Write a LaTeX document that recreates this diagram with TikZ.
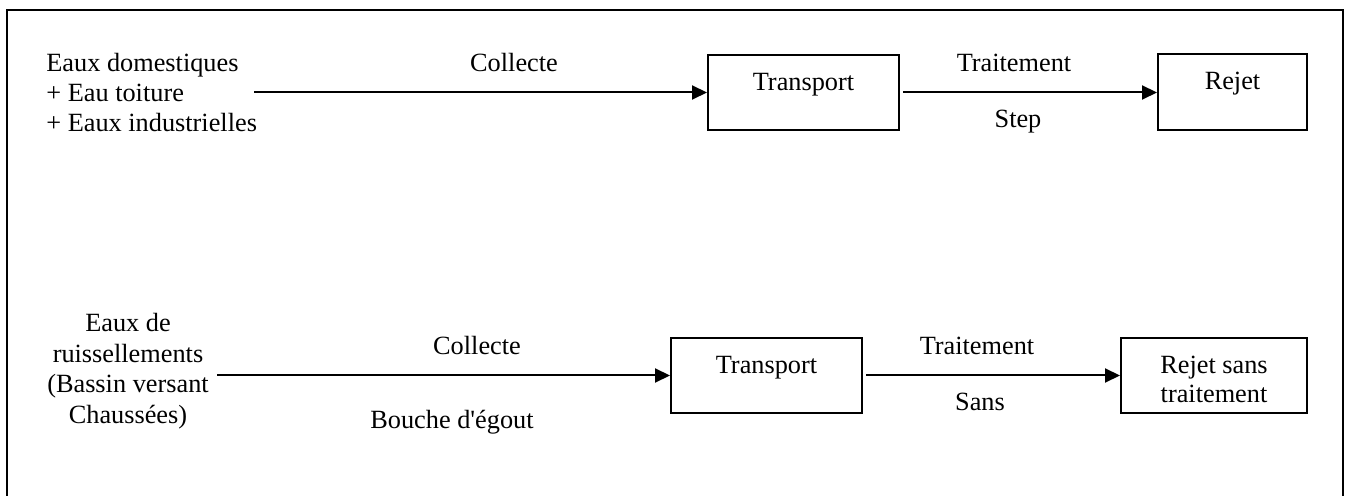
\documentclass[tikz,border=0pt]{standalone}
\usepackage{fontspec}
\setmainfont{Liberation Serif}
\usetikzlibrary{arrows.meta}
\begin{document}
\begin{tikzpicture}[x=0.5pt,y=-0.5pt,
  every node/.style={font=\fontsize{13.15pt}{15.2pt}\selectfont, inner sep=0pt},
  box/.style={draw, line width=1pt, minimum height=37.5pt},
  lbl/.style={anchor=base},
  flow/.style={line width=1pt, -{Triangle[length=7.5pt,width=7pt]}},
  frame/.style={line width=1pt}]
\useasboundingbox (0,0) rectangle (1348,496);
\draw[frame] (7,500) -- (7,10) -- (1343,10) -- (1343,500);

% top row
\node[anchor=base west, align=left] (src1) at (46,132) {Eaux domestiques\\+ Eau toiture\\+ Eaux industrielles};
\coordinate (s1) at (254,92.5);
\node[box, minimum width=95.5pt, text height=10pt, text depth=11.5pt] (tr1) at (803.5,92.5) {Transport};
\node[box, minimum width=74.5pt, minimum height=38pt, text height=10pt, text depth=12pt] (rj1) at (1232.5,92) {Rejet};
\draw[flow] (s1) -- (tr1.west);
\draw[flow, shorten <=1.5pt] (tr1.east) -- (rj1.west |- tr1.east);
\node[lbl] (c1) at (514,72) {Collecte};
\node[lbl] (t1) at (1014,72) {Traitement};
\node[lbl] (st) at (1018,128) {Step};

% bottom row
\node[anchor=base, align=center] (src2) at (128,423) {Eaux de\\ruissellements\\(Bassin versant\\Chaussées)};
\coordinate (s2) at (217,375.5);
\node[box, minimum width=95.5pt, text height=10pt, text depth=12.5pt] (tr2) at (766.5,375.5) {Transport};
\node[box, minimum width=93pt, align=center, text height=28pt, text depth=1.5pt,
      font=\fontsize{13.15pt}{14.5pt}\selectfont] (rj2) at (1214,375.5) {Rejet sans\\traitement};
\draw[flow] (s2) -- (tr2.west);
\draw[flow, shorten <=1.5pt] (tr2.east) -- (rj2.west);
\node[lbl] (c2) at (477,355) {Collecte};
\node[lbl] (bo) at (452,428) {Bouche d\textquotesingle égout};
\node[lbl] (t2) at (977,355) {Traitement};
\node[lbl] (sa) at (980,410) {Sans};
\end{tikzpicture}
\end{document}
